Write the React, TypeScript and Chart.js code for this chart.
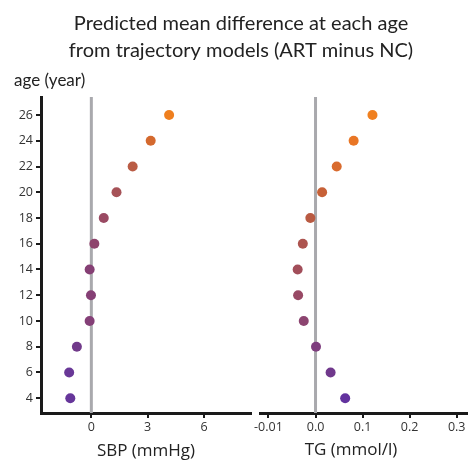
import React, { useEffect, useRef } from 'react';
import { Chart, registerables } from 'chart.js';

Chart.register(...registerables);

const ages = [26, 24, 22, 20, 18, 16, 14, 12, 10, 8, 6, 4];
const sbpDiff = [4.14, 3.16, 2.2, 1.34, 0.66, 0.16, -0.09, -0.02, -0.09, -0.77, -1.18, -1.12];
const tgDiff = [0.121, 0.081, 0.045, 0.014, -0.011, -0.027, -0.038, -0.037, -0.025, 0.001, 0.032, 0.063];
const sbpColors = ['#ef7f1e', '#d4692e', '#ba5c45', '#a65257', '#9a4a63', '#8e446d', '#853f74', '#853f75', '#843f77', '#713a8a', '#693897', '#66369a'];
const tgColors = ['#f08020', '#e97625', '#d96b2e', '#c76137', '#b95a42', '#ad544f', '#a24e5a', '#984965', '#8c4470', '#7e3d7e', '#70388c', '#62329e'];
const ageTicks = [4, 6, 8, 10, 12, 14, 16, 18, 20, 22, 24, 26];
const sbpTicks = [0, 3, 6];
const tgTicks = [-0.1, 0, 0.1, 0.2, 0.3];
const tgTickLabels = ['-0.01', '0.0', '0.1', '0.2', '0.3'];

const titleLines = ['Predicted mean difference at each age', 'from trajectory models (ART minus NC)'];
const yAxisTitle = 'age (year)';
const sbpTitle = 'SBP (mmHg)';
const tgTitle = 'TG (mmol/l)';

const Y_MIN = 2.85;
const Y_MAX = 27.4;

const zeroLine = {
  id: 'zeroLine',
  beforeDatasetsDraw(chart: any) {
    const ctx = chart.ctx;
    const xs = chart.scales.x;
    const { top, bottom } = chart.chartArea;
    const px = xs.getPixelForValue(0);
    ctx.save();
    ctx.strokeStyle = '#a9a9ad';
    ctx.lineWidth = 3;
    ctx.beginPath();
    ctx.moveTo(px, top);
    ctx.lineTo(px, bottom);
    ctx.stroke();
    ctx.restore();
  },
};

const tickFont = { family: '"Open Sans", sans-serif', size: 12.5 };
const axisTitleFont = { family: '"Open Sans", sans-serif', size: 17, lineHeight: 1.2 };
const AXIS_COLOR = '#1a1a1a';

function xAxis(min: number, max: number, ticks: number[], height: number, title?: string, labels?: string[]) {
  return {
    type: 'linear',
    position: 'bottom',
    min,
    max,
    afterBuildTicks(s: any) {
      s.ticks = ticks.map((v) => ({ value: v }));
    },
    afterFit(s: any) {
      s.height = height;
      s.paddingLeft = 0;
      s.paddingRight = 0;
    },
    ticks: {
      font: tickFont,
      color: '#333',
      padding: 2,
      maxRotation: 0,
      autoSkip: false,
      callback: (v: any, i: number) => (labels ? labels[i] : String(v)),
    },
    grid: { drawOnChartArea: false, drawTicks: true, tickLength: 5, color: AXIS_COLOR, lineWidth: 2 },
    border: { display: true, color: AXIS_COLOR, width: 3 },
    title: { display: !!title, text: title || '', font: axisTitleFont, color: '#222', padding: { top: 2, bottom: 0 } },
  };
}

export default function App() {
  const ref1 = useRef<HTMLCanvasElement>(null);
  const ref2 = useRef<HTMLCanvasElement>(null);

  useEffect(() => {
    const c1 = new Chart(ref1.current as HTMLCanvasElement, {
      type: 'scatter',
      data: {
        datasets: [
          {
            data: ages.map((a, i) => ({ x: sbpDiff[i], y: a })),
            backgroundColor: sbpColors,
            borderWidth: 0,
            pointRadius: 5,
            pointHoverRadius: 5,
          },
        ],
      },
      options: {
        responsive: false,
        animation: false,
        events: [],
        layout: { autoPadding: false, padding: { left: 14, top: 0, right: 0, bottom: 0 } },
        plugins: {
          legend: { display: false },
          tooltip: { enabled: false },
          title: {
            display: true,
            text: titleLines,
            color: '#222',
            font: { family: 'Lato, sans-serif', size: 20, weight: 'normal', lineHeight: 1.35 },
            padding: { top: 10, bottom: 2 },
          },
          subtitle: {
            display: true,
            text: yAxisTitle,
            align: 'start',
            color: '#222',
            font: { family: 'Lato, sans-serif', size: 17, weight: 'normal', lineHeight: 1.2 },
            padding: { top: 4, bottom: 6.6 },
          },
        },
        scales: {
          x: xAxis(-2.68, 8.5, sbpTicks, 48, sbpTitle),
          y: {
            type: 'linear',
            min: Y_MIN,
            max: Y_MAX,
            afterBuildTicks(s: any) {
              s.ticks = ageTicks.map((v) => ({ value: v }));
            },
            afterFit(s: any) {
              s.width = 27;
            },
            ticks: { font: tickFont, color: '#333', padding: 3 },
            grid: { drawOnChartArea: false, drawTicks: true, tickLength: 5, color: AXIS_COLOR, lineWidth: 2 },
            border: { display: true, color: AXIS_COLOR, width: 3 },
          },
          yPad: {
            type: 'linear',
            position: 'right',
            afterFit(s: any) {
              s.width = 217;
            },
            ticks: { display: false },
            grid: { display: false },
            border: { display: false },
          },
        },
      } as any,
      plugins: [zeroLine],
    });

    const c2 = new Chart(ref2.current as HTMLCanvasElement, {
      type: 'scatter',
      data: {
        datasets: [
          {
            data: ages.map((a, i) => ({ x: tgDiff[i], y: a })),
            backgroundColor: tgColors,
            borderWidth: 0,
            pointRadius: 5,
            pointHoverRadius: 5,
          },
        ],
      },
      options: {
        responsive: false,
        animation: false,
        events: [],
        layout: { autoPadding: false, padding: { left: 0, top: 97, right: 0, bottom: 0 } },
        plugins: {
          legend: { display: false },
          tooltip: { enabled: false },
          title: {
            display: true,
            position: 'bottom',
            text: tgTitle,
            color: '#222',
            font: { ...axisTitleFont, weight: 'normal' },
            padding: { top: 0, bottom: 1 },
          },
        },
        scales: {
          x: xAxis(-0.118, 0.324, tgTicks, 26.6, undefined, tgTickLabels),
          y: {
            type: 'linear',
            min: Y_MIN,
            max: Y_MAX,
            afterFit(s: any) {
              s.width = 26;
            },
            ticks: { display: false },
            grid: { display: false },
            border: { display: false },
          },
        },
      } as any,
      plugins: [zeroLine],
    });

    return () => {
      c1.destroy();
      c2.destroy();
    };
  }, []);

  return (
    <div style={{ position: 'absolute', left: 0, top: 0, width: 468, height: 461, background: '#fff' }}>
      <canvas ref={ref1} width={468} height={461} style={{ position: 'absolute', left: 0, top: 0 }} />
      <canvas ref={ref2} width={234} height={461} style={{ position: 'absolute', left: 234, top: 0 }} />
    </div>
  );
}
